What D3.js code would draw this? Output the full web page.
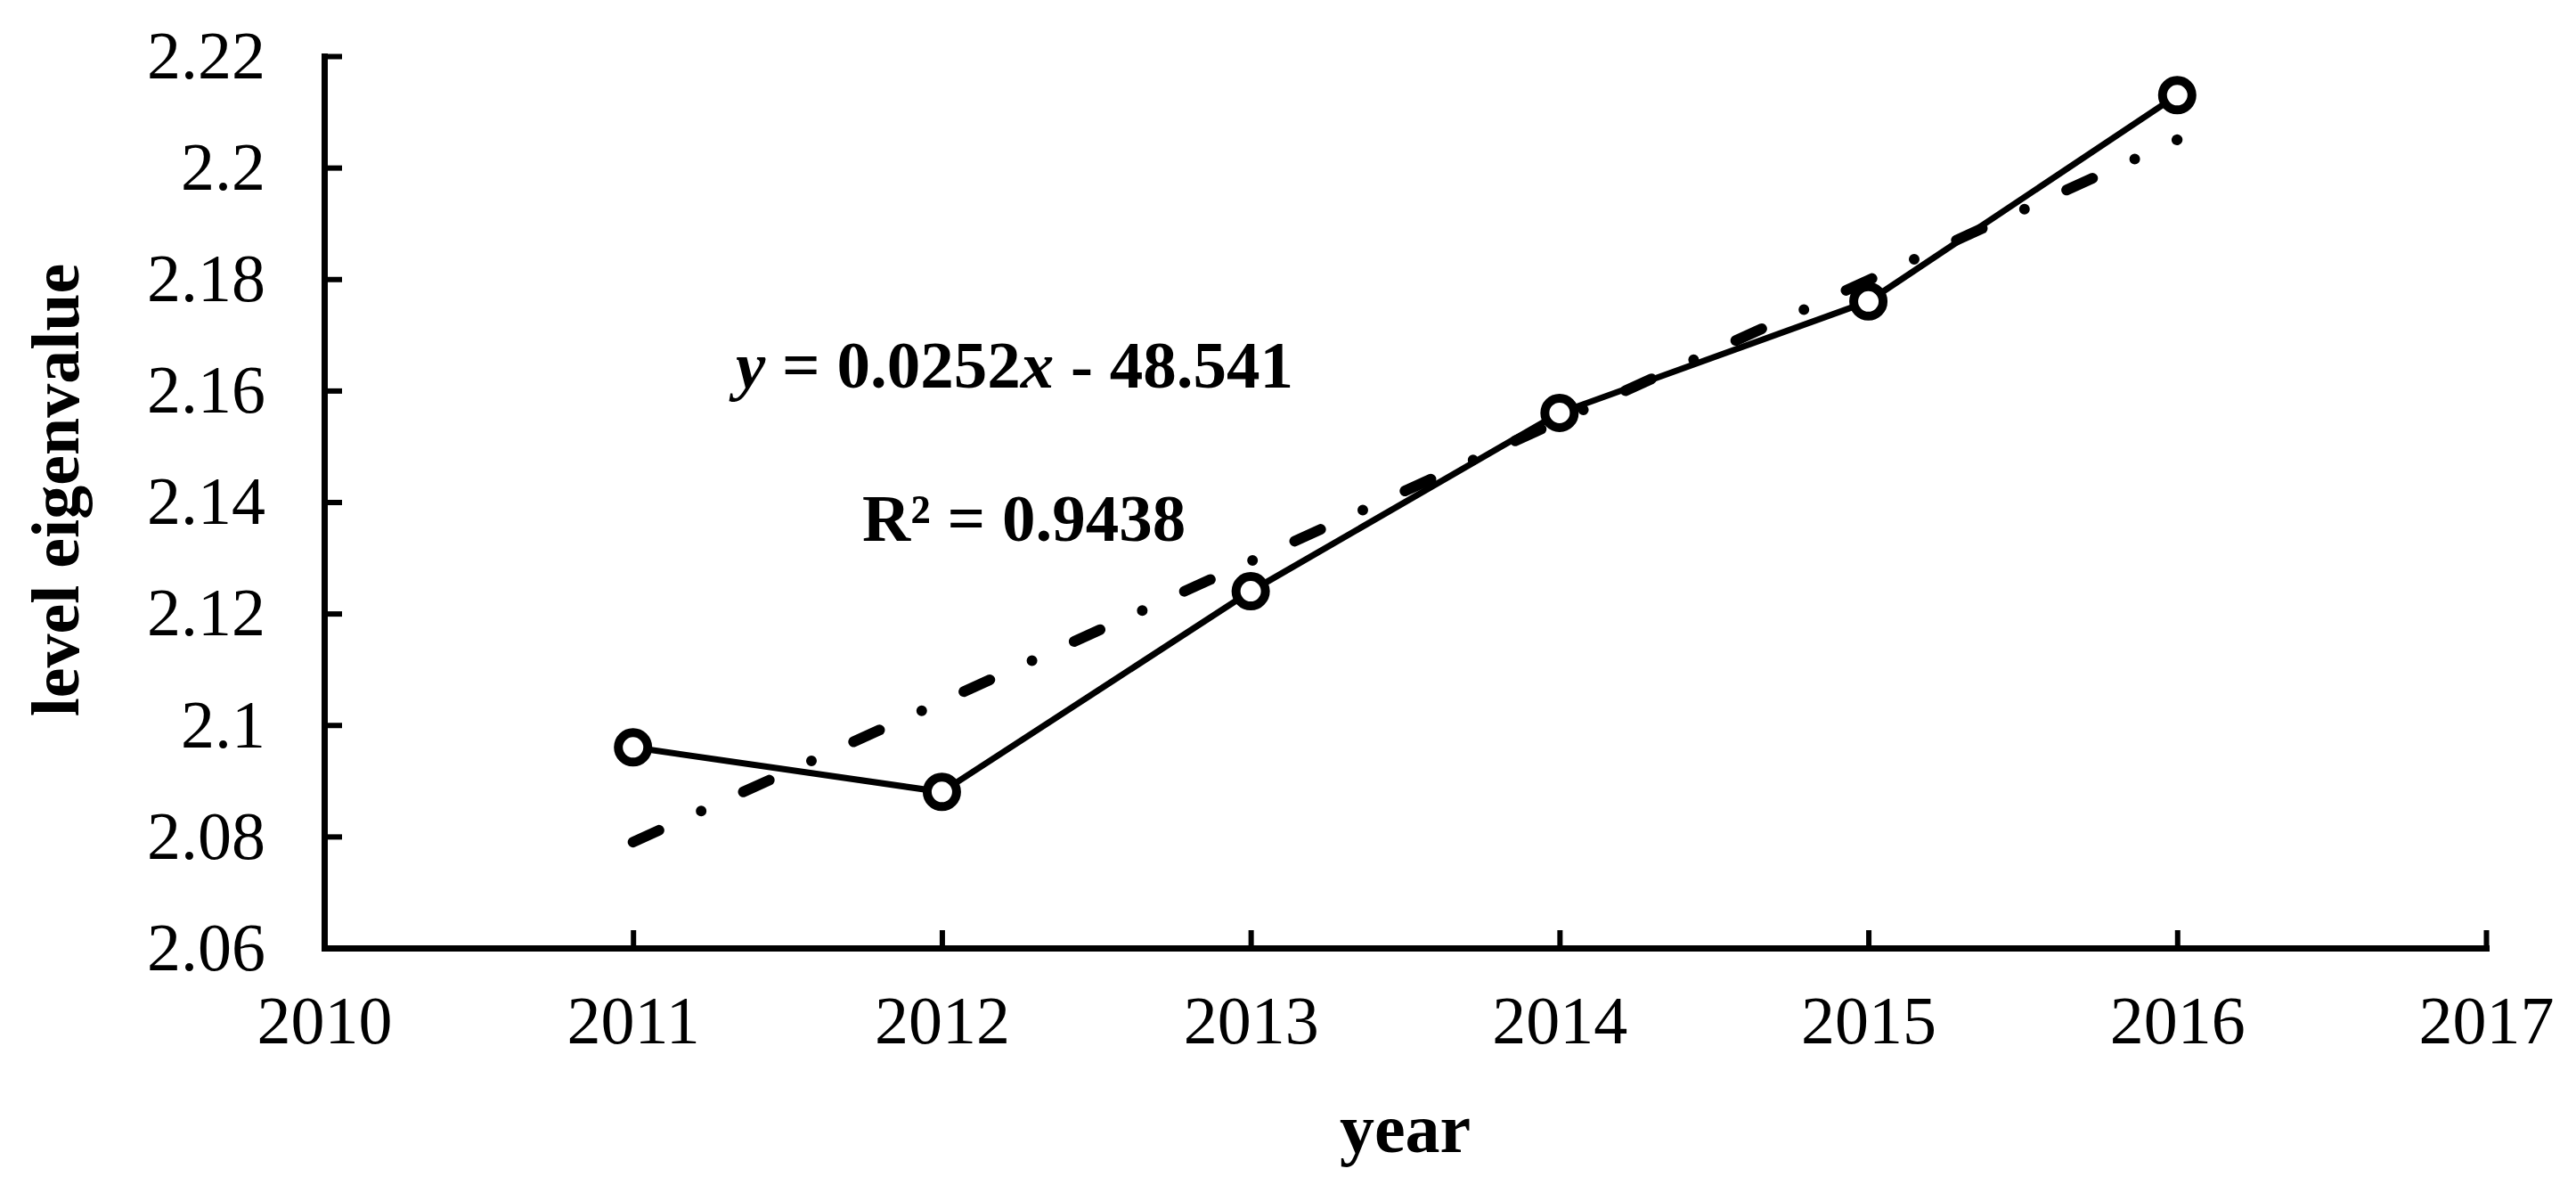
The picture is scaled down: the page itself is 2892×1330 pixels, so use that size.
<!DOCTYPE html>
<html>
<head>
<meta charset="utf-8">
<script src="https://cdn.jsdelivr.net/npm/d3@7"></script>
<style>
  body { margin: 0; background: #fff; }
  text { font-family: 'Liberation Serif', 'Times New Roman', serif; fill: #000; }
</style>
</head>
<body>
<div id="chart"></div>
<script>
const years = [2011, 2012, 2013, 2014, 2015, 2016];
const eigenvalues = [2.096, 2.088, 2.124, 2.156, 2.176, 2.213];

// linear trend line, read at its two ends
const trendYears = [2011, 2016];
const trendValues = [2.079, 2.205];

const xTicks = [2010, 2011, 2012, 2013, 2014, 2015, 2016, 2017];
const yTicks = [2.06, 2.08, 2.1, 2.12, 2.14, 2.16, 2.18, 2.2, 2.22];
const yTickLabels = ['2.06', '2.08', '2.1', '2.12', '2.14', '2.16', '2.18', '2.2', '2.22'];

const width = 2892;
const height = 1330;
const margin = { top: 63, right: 101, bottom: 266, left: 364 };
const fontSize = 76;

const svg = d3.select('#chart')
  .append('svg')
  .attr('width', width)
  .attr('height', height);

const x = d3.scaleLinear()
  .domain([2010, 2017])
  .range([margin.left, width - margin.right]);

const y = d3.scaleLinear()
  .domain([2.06, 2.22])
  .range([height - margin.bottom, margin.top]);

const xAxis = d3.axisBottom(x)
  .tickValues(xTicks)
  .tickFormat(d3.format('d'))
  .tickSizeInner(-20)
  .tickSizeOuter(0)
  .tickPadding(53);

const yAxis = d3.axisLeft(y)
  .tickValues(yTicks)
  .tickFormat((d, i) => yTickLabels[i])
  .tickSizeInner(-20)
  .tickSizeOuter(0)
  .tickPadding(66);

const gx = svg.append('g')
  .attr('transform', `translate(0, ${height - margin.bottom})`)
  .call(xAxis);

const gy = svg.append('g')
  .attr('transform', `translate(${margin.left}, 0)`)
  .call(yAxis);

[gx, gy].forEach(g => {
  g.select('.domain')
    .attr('stroke', '#000')
    .attr('stroke-width', 7)
    .attr('stroke-linecap', 'square');
  g.selectAll('.tick line')
    .attr('stroke', '#000')
    .attr('stroke-width', 6);
  g.selectAll('.tick text')
    .attr('font-family', null)
    .attr('font-size', null)
    .style('font-size', fontSize + 'px');
});

// trend line (dash-dot)
const trend = trendYears.map((d, i) => [d, trendValues[i]]);
svg.append('path')
  .datum(trend)
  .attr('fill', 'none')
  .attr('stroke', '#000')
  .attr('stroke-width', 12)
  .attr('stroke-linecap', 'round')
  .attr('stroke-dasharray', '32 52 0 52')
  .attr('d', d3.line().x(d => x(d[0])).y(d => y(d[1])));

// data line
const points = years.map((d, i) => [d, eigenvalues[i]]);
svg.append('path')
  .datum(points)
  .attr('fill', 'none')
  .attr('stroke', '#000')
  .attr('stroke-width', 7)
  .attr('d', d3.line().x(d => x(d[0])).y(d => y(d[1])));

svg.selectAll('circle.marker')
  .data(points)
  .enter()
  .append('circle')
  .attr('class', 'marker')
  .attr('cx', d => x(d[0]))
  .attr('cy', d => y(d[1]))
  .attr('r', 16.5)
  .attr('fill', '#fff')
  .attr('stroke', '#000')
  .attr('stroke-width', 10);

// regression equation
const eq = svg.append('text')
  .attr('x', 826)
  .attr('y', 435)
  .style('font-size', '75px')
  .style('font-weight', 'bold');
eq.append('tspan').style('font-style', 'italic').text('y');
eq.append('tspan').text(' = 0.0252');
eq.append('tspan').style('font-style', 'italic').text('x');
eq.append('tspan').text(' - 48.541');

svg.append('text')
  .attr('x', 968)
  .attr('y', 607)
  .style('font-size', '75px')
  .style('font-weight', 'bold')
  .text('R² = 0.9438');

// axis titles
svg.append('text')
  .attr('x', (margin.left + width - margin.right) / 2)
  .attr('y', 1293)
  .attr('text-anchor', 'middle')
  .style('font-size', '78px')
  .style('font-weight', 'bold')
  .text('year');

svg.append('text')
  .attr('transform', 'translate(88, 550) rotate(-90)')
  .attr('text-anchor', 'middle')
  .style('font-size', '76px')
  .style('font-weight', 'bold')
  .text('level eigenvalue');
</script>
</body>
</html>
